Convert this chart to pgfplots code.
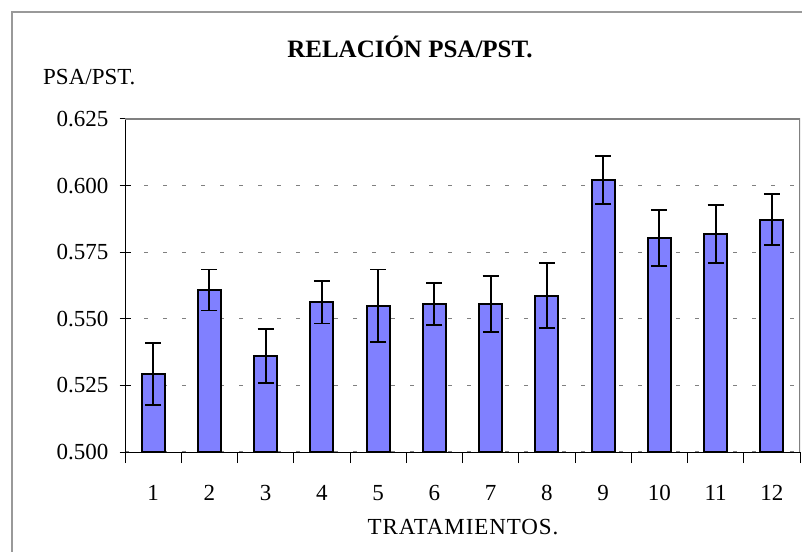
\documentclass[border=0pt]{standalone}
\usepackage{fontspec}
\setmainfont{Liberation Serif}
\usepackage{pgfplots}
\usepackage{pgfplotstable}
\pgfplotsset{compat=1.18}
\definecolor{barblue}{HTML}{8080FF}
\pgfplotstableread{
x y e
1 0.5292 0.0117
2 0.5608 0.0077
3 0.5360 0.0102
4 0.5562 0.0080
5 0.5549 0.0136
6 0.5556 0.0079
7 0.5556 0.0106
8 0.5587 0.0122
9 0.6021 0.0090
10 0.5804 0.0105
11 0.5818 0.0108
12 0.5872 0.0095
}\datatable
\newcommand{\chartfont}{\fontsize{23}{27}\selectfont}
\begin{document}
\begin{tikzpicture}[x=1pt,y=1pt]
\useasboundingbox (0,0) rectangle (802,551);
\draw[gray!80, line width=1.3pt] (12,-10) |- (820,539);
\node[font=\fontsize{25}{29}\selectfont\bfseries] at (410,504) {RELACIÓN PSA/PST.};
\node[font=\chartfont, anchor=base west, inner sep=0pt] at (43,466) {PSA/PST.};
\node[font=\chartfont, anchor=base, inner sep=0pt] at (463,17) {\addfontfeature{LetterSpace=4}TRATAMIENTOS.};
\begin{axis}[
  at={(125pt,99pt)}, anchor=south west,
  scale only axis, width=675pt, height=333pt,
  xmin=0.5, xmax=12.5, ymin=0.5, ymax=0.625,
  axis x line*=bottom, axis y line*=left,
  axis line style={-, black, line width=1pt},
  xtick={1,...,12},
  xtick style={draw=none},
  minor xtick={0.5,1.5,...,12.5},
  minor x tick style={draw=black, line width=1pt},
  minor tick length=11pt,
  ytick={0.5,0.525,0.55,0.575,0.6,0.625},
  y tick style={black, line width=1pt},
  major tick length=11pt,
  tick align=center,
  ymajorgrids,
  grid style={gray, line width=1.3pt, dash pattern=on 4pt off 15pt},
  /pgf/number format/assume math mode=true,
  y tick label style={/pgf/number format/fixed, /pgf/number format/fixed zerofill, /pgf/number format/precision=3},
  tick label style={font=\chartfont},
  yticklabel style={anchor=east, inner sep=0pt, xshift=-11pt},
  xticklabel style={anchor=north, inner sep=0pt, yshift=-22pt},
  ybar, bar width=23pt,
  clip=true,
]
\addplot[fill=barblue, draw=black, line width=2pt,
  error bars/.cd, y dir=both, y explicit,
  error bar style={line width=1.8pt, black, solid},
  error mark=|,
  error mark options={mark size=8pt, line width=1.8pt, black, solid}]
  table[x=x, y=y, y error=e] {\datatable};
\draw[gray, line width=1.3pt] (rel axis cs:0,1) -- (rel axis cs:1,1) -- (rel axis cs:1,0);
\end{axis}
\end{tikzpicture}
\end{document}
